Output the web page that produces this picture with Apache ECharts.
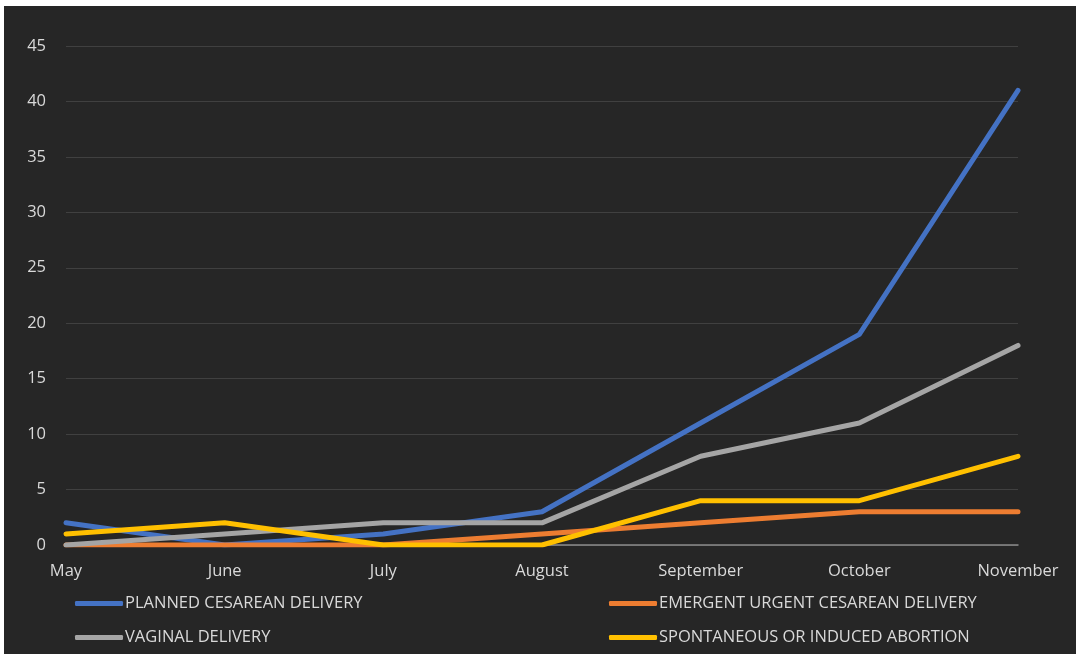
<!DOCTYPE html>
<html><head><meta charset="utf-8">
<script src="https://cdn.jsdelivr.net/npm/echarts@6/dist/echarts.min.js"></script>
<style>
html,body{margin:0;padding:0;background:#fff;width:1080px;height:660px;overflow:hidden}
#c{position:absolute;left:4px;top:6px;width:1072px;height:648px}
</style></head><body>
<div id="c"></div>
<script>
const categories = ['May','June','July','August','September','October','November'];
const planned = [2,0,1,3,11,19,41];
const emergent = [0,0,0,1,2,3,3];
const vaginal = [0,1,2,2,8,11,18];
const abortion = [1,2,0,0,4,4,8];
const yTicks = [0,5,10,15,20,25,30,35,40,45];
const names = ['PLANNED CESAREAN DELIVERY','EMERGENT URGENT CESAREAN DELIVERY','VAGINAL DELIVERY','SPONTANEOUS OR INDUCED ABORTION'];
const colors = ['#4472c4','#ed7d31','#a5a5a5','#ffc000'];
const values = [planned, emergent, vaginal, abortion];
const font = '"Open Sans", "Noto Sans", sans-serif';
const chart = echarts.init(document.getElementById('c'));
const legendPos = [[71,589],[605,589],[71,623],[605,623]];
chart.setOption({
  backgroundColor:'#262626',
  animation:false,
  grid:{left:62,right:58,top:40,bottom:109},
  legend: names.map((n,i)=>({
    data:[n], left:legendPos[i][0], top:legendPos[i][1], padding:0,
    icon:'roundRect', itemWidth:48, itemHeight:5,
    textStyle:{color:'#d9d9d9',fontSize:16.5,fontFamily:font,padding:[0,0,0,-3]}
  })),
  xAxis:{type:'category',data:categories,boundaryGap:false,
    axisLine:{lineStyle:{color:'#8a8a8a',width:1.5}},axisTick:{show:false},
    axisLabel:{color:'#d9d9d9',fontSize:16.5,fontFamily:font,margin:18}},
  yAxis:{type:'value',min:0,max:45,interval:5,
    axisLine:{show:false},axisTick:{show:false},
    splitLine:{lineStyle:{color:'#404040',width:1}},
    axisLabel:{color:'#d9d9d9',fontSize:16.5,fontFamily:font,margin:20,
      formatter:v=>yTicks.includes(v)?String(v):''}},
  series: names.map((n,i)=>({
    name:n,type:'line',data:values[i],symbol:'none',
    lineStyle:{color:colors[i],width:5,cap:'round',join:'round'},
    itemStyle:{color:colors[i]}
  }))
});
</script></body></html>
